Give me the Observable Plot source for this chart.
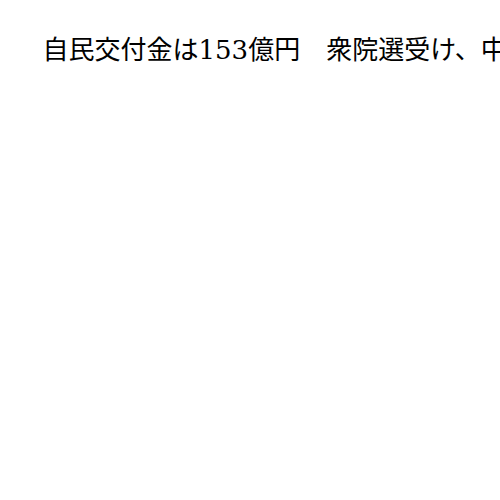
<!DOCTYPE html>
<html>
<head>
<meta charset="utf-8">
<script src="https://cdn.jsdelivr.net/npm/d3@7"></script>
<script src="https://cdn.jsdelivr.net/npm/@observablehq/plot@0.6"></script>
<style>
  html, body { margin: 0; padding: 0; background: #fff; overflow: hidden; }
  #chart svg { display: block; }
</style>
</head>
<body>
<div id="chart"></div>
<script>
const titles = ["自民交付金は153億円\u3000衆院選受け、中"];

const chart = Plot.plot({
  width: 500,
  height: 500,
  margin: 0,
  x: {axis: null},
  y: {axis: null},
  style: {background: "#fff", overflow: "hidden"},
  marks: [
    Plot.text(titles, {
      text: d => d,
      frameAnchor: "top-left",
      textAnchor: "start",
      lineAnchor: "middle",
      dx: 42,
      dy: 50,
      fontSize: 26,
      fill: "#000",
      fontFamily: "'DejaVu Serif', 'Liberation Serif', 'Noto Sans CJK JP', serif"
    })
  ]
});
document.getElementById("chart").appendChild(chart);
</script>
</body>
</html>
